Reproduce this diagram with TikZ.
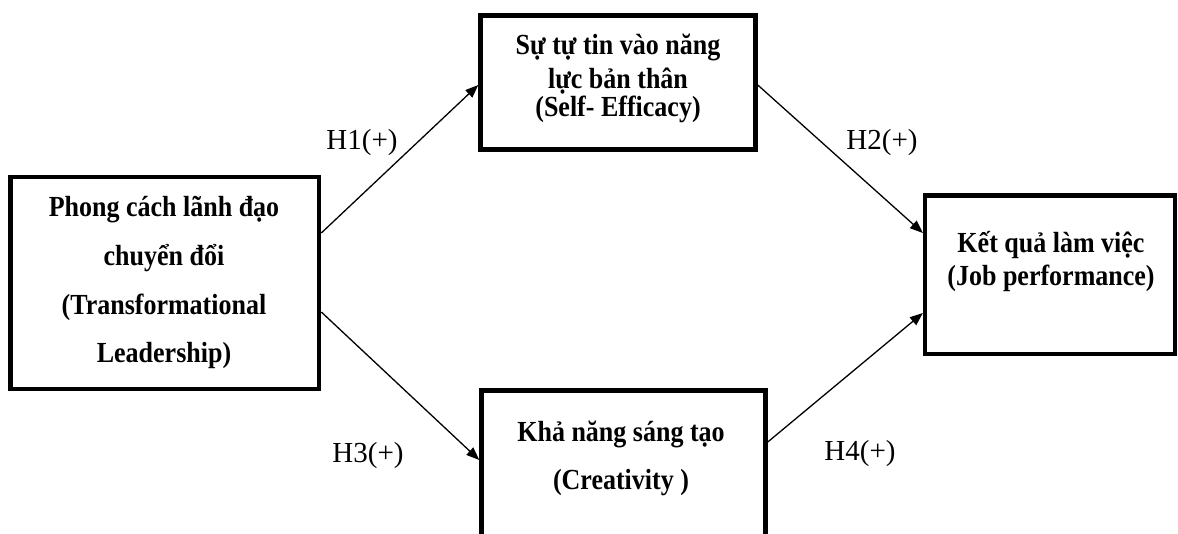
\documentclass[tikz,border=0pt]{standalone}
\usepackage{fontspec}
\setmainfont{Liberation Serif}
\usetikzlibrary{arrows.meta}
% bold box caption, set a little taller than the font's own proportions
\newcommand{\boxline}[1]{\scalebox{1}[1.12]{#1}}
\begin{document}
\begin{tikzpicture}[x=1pt,y=-1pt,
  box/.style={draw, line width=4.5pt, inner sep=0pt},
  boxtext/.style={anchor=base, inner sep=0pt, font=\fontsize{26}{30}\selectfont\bfseries},
  hyp/.style={anchor=base, inner sep=0pt, font=\fontsize{29}{32}\selectfont},
  link/.style={line width=1.3pt, -{Triangle[length=13pt,width=10pt]}}]
\clip (0,0) rectangle (1178,534);

% boxes
\node[box, minimum width=308.5pt, minimum height=212pt] (L) at (164.8,283) {};
\node[box, minimum width=275pt, minimum height=134pt] (T) at (618,82.5) {};
\node[box, minimum width=284pt, minimum height=190pt] (B) at (623.5,485.5) {};
\node[box, minimum width=249.7pt, minimum height=158.7pt] (R) at (1050,274.7) {};

% box texts
\node[boxtext] (l1) at (164,217) {\boxline{Phong cách lãnh đạo}};
\node[boxtext] (l2) at (164,266) {\boxline{chuyển đổi}};
\node[boxtext] (l3) at (164,315) {\boxline{(Transformational}};
\node[boxtext] (l4) at (164,363) {\boxline{Leadership)}};

\node[boxtext] (t1) at (618,55) {\boxline{Sự tự tin vào năng}};
\node[boxtext] (t2) at (618,89) {\boxline{lực bản thân}};
\node[boxtext] (t3) at (618,117) {\boxline{(Self- Efficacy)}};

\node[boxtext] (b1) at (621,441) {\boxline{Khả năng sáng tạo}};
\node[boxtext] (b2) at (621,489) {\boxline{(Creativity )}};

\node[boxtext] (r1) at (1051,252.7) {\boxline{Kết quả làm việc}};
\node[boxtext] (r2) at (1051,286) {\boxline{(Job performance)}};

% hypothesis paths
\draw[link] (L.east |- 0,233) -- (T.west |- 0,85);
\draw[link] (L.east |- 0,312) -- (B.west |- 0,460);
\draw[link] (T.east |- 0,85) -- (R.west |- 0,233);
\draw[link] (B.east |- 0,442) -- (R.west |- 0,313);

% hypothesis labels
\node[hyp] (h1) at (362,150) {H1(+)};
\node[hyp] (h3) at (368,462) {H3(+)};
\node[hyp] (h2) at (882,150) {H2(+)};
\node[hyp] (h4) at (860,460) {H4(+)};
\end{tikzpicture}
\end{document}
